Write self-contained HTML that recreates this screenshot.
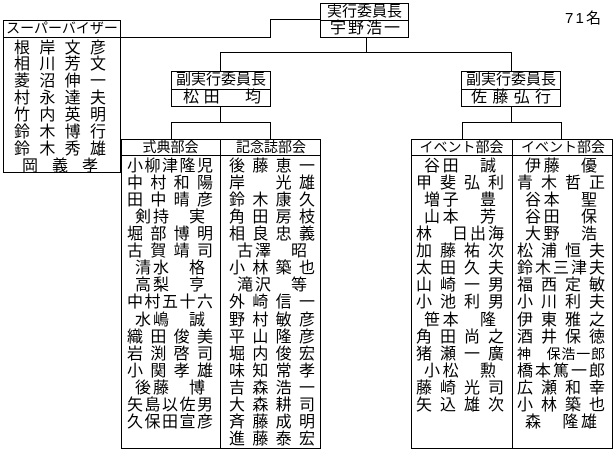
<!DOCTYPE html>
<html><head><meta charset="utf-8"><style>
body{margin:0;width:614px;height:452px;background:#fff;position:relative;overflow:hidden;font-family:"Liberation Sans","Noto Sans CJK JP",sans-serif;color:#000}
.b{position:absolute;border:1px solid #000;box-sizing:border-box}
.h{position:absolute;background:#000}
.t{position:absolute;font-size:16px;line-height:17px;display:flex;justify-content:space-between;white-space:pre}
.c{position:absolute;font-size:15px;line-height:17px;text-align:center;white-space:pre}
</style></head><body>
<div class="b" style="left:320px;top:3px;width:89px;height:35px"></div>
<div class="h" style="left:320px;top:20px;width:89px;height:1px"></div>
<div class="c" style="left:320px;top:3px;width:89px">実行委員長</div>
<div class="t" style="left:330px;top:20px;width:70px"><span>宇</span><span>野</span><span>浩</span><span>一</span></div>
<div class="t" style="left:565px;top:10px;width:36px;font-size:15px"><span>7</span><span>1</span><span>名</span></div>
<div class="h" style="left:270px;top:19px;width:50px;height:1px"></div>
<div class="h" style="left:270px;top:19px;width:1px;height:18px"></div>
<div class="h" style="left:120px;top:37px;width:151px;height:1px"></div>
<div class="b" style="left:3px;top:20px;width:118px;height:153px"></div>
<div class="h" style="left:3px;top:37px;width:118px;height:1px"></div>
<div class="c" style="left:3px;top:20px;width:118px;font-size:14px">スーパーバイザー</div>
<div id="sv"></div>
<div class="h" style="left:366px;top:37px;width:1px;height:15px"></div>
<div class="h" style="left:220px;top:52px;width:292px;height:1px"></div>
<div class="h" style="left:220px;top:52px;width:1px;height:19px"></div>
<div class="h" style="left:511px;top:52px;width:1px;height:19px"></div>
<div class="b" style="left:171px;top:71px;width:100px;height:36px"></div>
<div class="h" style="left:171px;top:89px;width:100px;height:1px"></div>
<div class="c" style="left:171px;top:71px;width:100px">副実行委員長</div>
<div class="t" style="left:183px;top:89px;width:78px"><span>松</span><span>田</span><span>　</span><span>均</span></div>
<div class="b" style="left:461px;top:71px;width:100px;height:36px"></div>
<div class="h" style="left:461px;top:89px;width:100px;height:1px"></div>
<div class="c" style="left:461px;top:71px;width:100px">副実行委員長</div>
<div class="t" style="left:471px;top:89px;width:80px"><span>佐</span><span>藤</span><span>弘</span><span>行</span></div>
<div class="h" style="left:220px;top:106px;width:1px;height:16px"></div>
<div class="h" style="left:171px;top:122px;width:100px;height:1px"></div>
<div class="h" style="left:171px;top:122px;width:1px;height:17px"></div>
<div class="h" style="left:270px;top:122px;width:1px;height:17px"></div>
<div class="h" style="left:511px;top:106px;width:1px;height:16px"></div>
<div class="h" style="left:462px;top:122px;width:100px;height:1px"></div>
<div class="h" style="left:462px;top:122px;width:1px;height:17px"></div>
<div class="h" style="left:561px;top:122px;width:1px;height:17px"></div>
<div class="b" style="left:121px;top:139px;width:200px;height:310px"></div>
<div class="h" style="left:220px;top:139px;width:1px;height:310px"></div>
<div class="h" style="left:121px;top:155px;width:200px;height:1px"></div>
<div class="c" style="left:121px;top:139px;width:99px;font-size:14px">式典部会</div>
<div class="c" style="left:221px;top:139px;width:100px;font-size:14px">記念誌部会</div>
<div class="b" style="left:411px;top:139px;width:202px;height:310px"></div>
<div class="h" style="left:512px;top:139px;width:1px;height:310px"></div>
<div class="h" style="left:411px;top:155px;width:202px;height:1px"></div>
<div class="c" style="left:411px;top:139px;width:101px;font-size:14px">イベント部会</div>
<div class="c" style="left:513px;top:139px;width:100px;font-size:14px">イベント部会</div>
<div id="cols"></div>
<script>
function put(list,x,w,top,step){let h='';list.forEach((n,i)=>{let pad=0,fs='';if(n[0]=='^'){pad=8;n=n.slice(1);}if(n[0]=='~'){fs='font-size:14px;';n=n.slice(1);}
h+=`<div class="t" style="${fs}left:${x+pad}px;top:${top+i*step}px;width:${w-pad*2}px">`+[...n].map(c=>`<span>${c}</span>`).join('')+'</div>';});return h;}
let sv=["根岸文彦","相川芳文","菱沼伸一","村永達夫","竹内英明","鈴木博行","鈴木秀雄","^岡義孝"];
document.getElementById('sv').outerHTML=put(sv,14,92,39.5,16.9);
let a=["小柳津隆児","中村和陽","田中晴彦","^剣持　実","堀部博明","古賀靖司","^清水　格","^高梨　亨","中村五十六","^水嶋　誠","織田俊美","岩渕啓司","小関孝雄","^後藤　博","矢島以佐男","久保田宣彦"];
let b=["後藤恵一","岸　光雄","鈴木康久","角田房枝","相良忠義","^古澤　昭","小林築也","^滝沢　等","外崎信一","野村敏彦","平山隆彦","堀内俊宏","味知常孝","吉森浩一","大森耕司","斉藤成明","進藤泰宏"];
let c=["^谷田　誠","甲斐弘利","^増子　豊","^山本　芳","林　日出海","加藤祐次","太田久夫","山崎一男","小池利男","^笹本　隆","角田尚之","猪瀬一廣","^小松　勲","藤崎光司","矢込雄次"];
let d=["^伊藤　優","青木哲正","^谷本　聖","^谷田　保","^大野　浩","松浦恒夫","鈴木三津夫","福西定敏","小川利夫","伊東雅之","酒井保徳","~神　保浩一郎","橋本篤一郎","広瀬和幸","小林築也","^森　隆雄"];
document.getElementById('cols').outerHTML=put(a,127,86,158,17.06)+put(b,229,86,158,17.06)+put(c,416,88,158,17.06)+put(d,517,88,158,17.06);
</script>
</body></html>
